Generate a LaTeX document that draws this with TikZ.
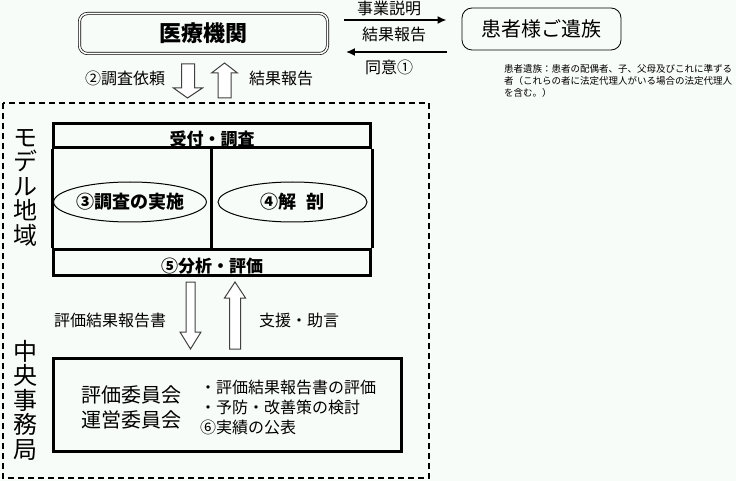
\documentclass[tikz,border=0pt]{standalone}
\usepackage{fontspec}
\setmainfont{Noto Sans CJK JP}
\usepackage{tikz}
\usetikzlibrary{arrows.meta}
\usetikzlibrary{shapes.geometric}
\usetikzlibrary{positioning}
\definecolor{bgtint}{RGB}{248,252,248}
\newcommand{\jfs}[2][1.2]{\fontsize{#2}{#1\dimexpr #2pt\relax}\selectfont}
\tikzset{
    Box/.style = {draw=black, align=center, inner sep=0pt},
    iryobox/.style = {Box, double, double distance=1.6pt, line width=0.7pt, rounded corners=8pt, minimum width=248pt, minimum height=40pt, font=\jfs{22}\bfseries},
    izokubox/.style = {Box, line width=0.8pt, rounded corners=10pt, minimum width=159pt, minimum height=42pt, font=\jfs{20}},
    lbl/.style = {inner sep=0pt, font=\jfs{16}},
    vlbl/.style = {inner sep=0pt, align=center, font=\fontsize{24}{24.5}\selectfont},
    band/.style = {draw=black, line width=3pt, minimum width=317pt, inner sep=0pt},
    oval/.style = {ellipse, draw=black, line width=1pt, minimum height=40pt, inner sep=0pt, font=\jfs{18}\bfseries},
}

\begin{document}
\begin{tikzpicture}[
	x=1pt, y=-1pt,
	flow/.style = {line width=2pt, -{Latex[length=9pt,width=8pt]}},
	hollow/.style = {draw=black!75, line width=1pt, fill=white, line join=miter},
	region/.style = {draw=black, line width=1.2pt, dash pattern=on 6pt off 4pt}
]
\fill[bgtint] (0,0) rectangle (736,481);
\useasboundingbox (0,0) rectangle (736,481);
%
\node[iryobox] at (203.5,33.5) (iryo) {医療機関};
\node[izokubox] at (541.5,29) (izoku) {患者様ご遺族};
\draw[flow, shorten <=16pt, shorten >=15pt] (iryo.east |- 0,20) -- (izoku.west |- 0,20);
\draw[flow, shorten <=15pt, shorten >=18pt] (izoku.west |- 0,52) -- (iryo.east |- 0,52);
\node[lbl] at (389,8) (setsumei) {事業説明};
\node[lbl] at (394,34) (houkoku1) {結果報告};
\node[lbl] at (389,67) (doui) {同意①};
\node[inner sep=0pt, anchor=north west, align=left, font=\fontsize{9.5}{12}\selectfont] at (504,64) (note)
    {患者遺族：患者の配偶者、子、父母及びこれに準ずる\\者（これらの者に法定代理人がいる場合の法定代理人\\を含む。）};
%
\node[lbl] at (125,78) (irai) {②調査依頼};
\node[lbl] at (281,78) (houkoku2) {結果報告};
\coordinate (dn1) at (187.5,98);
\coordinate (up1) at (224.5,63);
\draw[hollow] (dn1) -- ++(-14,-10) -- ++(8,0) -- ++(0,-24) -- ++(13,0) -- ++(0,24) -- ++(8,0) -- cycle;
\draw[hollow] (up1) -- ++(-13,10) -- ++(6.5,0) -- ++(0,25) -- ++(13,0) -- ++(0,-25) -- ++(6.5,0) -- cycle;
%
\draw[region] (3,103) rectangle (429,478);
\node[vlbl] at (25,187.5) (model) {モ\\デ\\ル\\地\\域};
\node[vlbl] at (25,400) (jimukyoku) {中\\央\\事\\務\\局};
%
\node[band, minimum height=24pt] at (212,135.5) (uketsuke) {};
\node[band, minimum height=26pt] at (212,262.5) (bunseki) {};
\draw[line width=3pt] (uketsuke.south west) -- (bunseki.north west);
\draw[line width=3pt] (uketsuke.south east) -- (bunseki.north east);
\draw[line width=3pt] (uketsuke.south -| 211.5,0) -- (bunseki.north -| 211.5,0);
\node[inner sep=0pt, font=\jfs{17}\bfseries] at (212,139) {受付・調査};
\node[inner sep=0pt, font=\jfs{17}\bfseries] at (212,266) {⑤分析・評価};
\node[oval, minimum width=144pt] at (130,202) (chosa) {③調査の実施};
\node[oval, minimum width=149pt] at (292.5,202) (kaibo) {④解\hspace{0.6em}剖};
%
\node[lbl] at (110,320) (hyoukasho) {評価結果報告書};
\node[lbl] at (299,320) (shien) {支援・助言};
\coordinate (dn2) at (190.5,349);
\coordinate (up2) at (235,282);
\draw[hollow] (dn2) -- ++(-10.5,-17) -- ++(6,0) -- ++(0,-50) -- ++(9,0) -- ++(0,50) -- ++(6,0) -- cycle;
\draw[hollow] (up2) -- ++(-10.5,16) -- ++(5,0) -- ++(0,51) -- ++(11,0) -- ++(0,-51) -- ++(5,0) -- cycle;
%
\node[draw=black, line width=3pt, minimum width=348pt, minimum height=93pt, inner sep=0pt] at (227.5,405) (chuo) {};
\node[inner sep=0pt, align=center, font=\fontsize{20}{25}\selectfont] at (131,407.5) (iinkai) {評価委員会\\運営委員会};
\node[inner sep=0pt, anchor=west, align=left, font=\fontsize{16}{20}\selectfont] at (200,407) (tasks)
    {・評価結果報告書の評価\\・予防・改善策の検討\\⑥実績の公表};
\end{tikzpicture}
\end{document}
